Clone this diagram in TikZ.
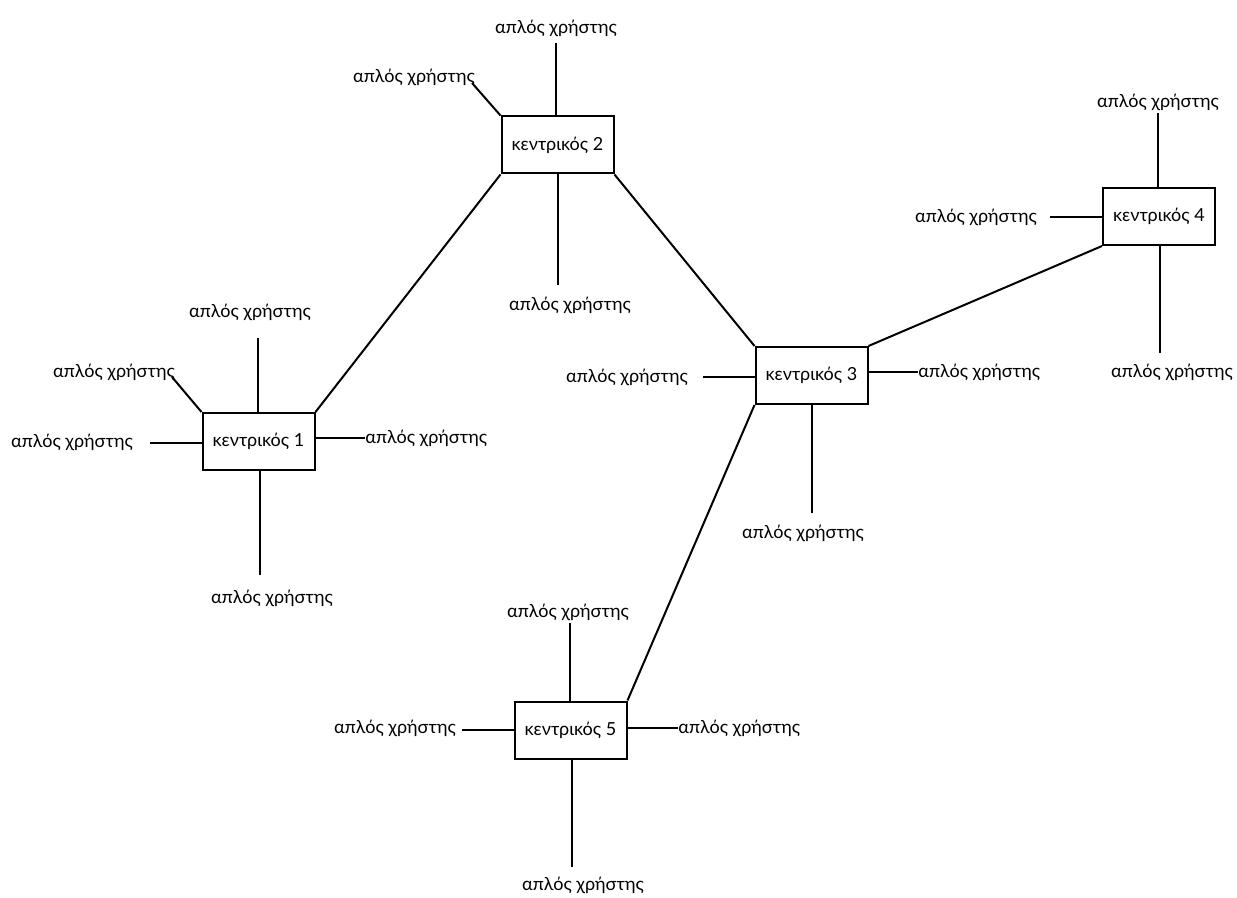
\documentclass[tikz,border=0pt]{standalone}
\usepackage{fontspec}
\setmainfont{Lato}
\begin{document}
\begin{tikzpicture}[x=0.5pt,y=-0.5pt,
  hub/.style={draw, line width=1pt, minimum width=56pt, minimum height=28.5pt, inner sep=0pt, font=\fontsize{9}{11}\selectfont},
  usr/.style={inner sep=0pt, font=\fontsize{9}{11}\selectfont},
  wire/.style={line width=1pt}]
\useasboundingbox (0,0) rectangle (1237,898);
% hubs
\node[hub] (b1) at (258.5,441.5) {κεντρικός 1};
\node[hub] (b2) at (557.5,145) {κεντρικός 2};
\node[hub] (b3) at (811.5,375.5) {κεντρικός 3};
\node[hub] (b4) at (1159,216.5) {κεντρικός 4};
\node[hub] (b5) at (570.5,730) {κεντρικός 5};
% users
\node[usr] (u1t) at (250,312) {απλός χρήστης};
\node[usr] (u1u) at (114,372) {απλός χρήστης};
\node[usr] (u1l) at (72,442) {απλός χρήστης};
\node[usr,anchor=west] (u1r) at (365,438) {απλός χρήστης};
\node[usr] (u1b) at (272,598) {απλός χρήστης};
\node[usr] (u2t) at (556,28) {απλός χρήστης};
\node[usr] (u2u) at (414,77) {απλός χρήστης};
\node[usr] (u2b) at (570,305) {απλός χρήστης};
\node[usr] (u3l) at (627,377) {απλός χρήστης};
\node[usr,anchor=west] (u3r) at (918,372) {απλός χρήστης};
\node[usr] (u3b) at (803,533) {απλός χρήστης};
\node[usr] (u4t) at (1158,102) {απλός χρήστης};
\node[usr] (u4l) at (976,217) {απλός χρήστης};
\node[usr] (u4b) at (1172,372) {απλός χρήστης};
\node[usr] (u5t) at (568,612) {απλός χρήστης};
\node[usr] (u5l) at (395,728) {απλός χρήστης};
\node[usr,anchor=west] (u5r) at (678,728) {απλός χρήστης};
\node[usr] (u5b) at (583,885) {απλός χρήστης};
% free ends
\coordinate (c1t) at (258,338);
\coordinate (c1u) at (172,377);
\coordinate (c1l) at (150,443);
\coordinate (c1b) at (260,575);
\coordinate (c2t) at (556,43);
\coordinate (c2u) at (472,83);
\coordinate (c2b) at (558,285);
\coordinate (c3l) at (703,377);
\coordinate (c3b) at (812,513);
\coordinate (c4t) at (1158,113);
\coordinate (c4l) at (1050,217);
\coordinate (c4b) at (1160,353);
\coordinate (c5t) at (570,623);
\coordinate (c5l) at (462,730);
\coordinate (c5b) at (572,867);
% backbone
\draw[wire] (b2.south west) -- (b1.north east);
\draw[wire] (b2.south east) -- (b3.north west);
\draw[wire] (b4.south west) -- (b3.north east);
\draw[wire] (b3.south west) -- (b5.north east);
% user wires
\draw[wire] (c1t) -- (c1t |- b1.north);
\draw[wire] (c1u) -- (b1.north west);
\draw[wire] (c1l) -- (c1l -| b1.west);
\draw[wire] (b1.east |- u1r.west) -- (u1r.west);
\draw[wire] (c1b) -- (c1b |- b1.south);
\draw[wire] (c2t) -- (c2t |- b2.north);
\draw[wire] (c2u) -- (b2.north west);
\draw[wire] (c2b) -- (c2b |- b2.south);
\draw[wire] (c3l) -- (c3l -| b3.west);
\draw[wire] (b3.east |- u3r.west) -- (u3r.west);
\draw[wire] (c3b) -- (c3b |- b3.south);
\draw[wire] (c4t) -- (c4t |- b4.north);
\draw[wire] (c4l) -- (c4l -| b4.west);
\draw[wire] (c4b) -- (c4b |- b4.south);
\draw[wire] (c5t) -- (c5t |- b5.north);
\draw[wire] (c5l) -- (c5l -| b5.west);
\draw[wire] (b5.east |- u5r.west) -- (u5r.west);
\draw[wire] (c5b) -- (c5b |- b5.south);
\end{tikzpicture}
\end{document}
